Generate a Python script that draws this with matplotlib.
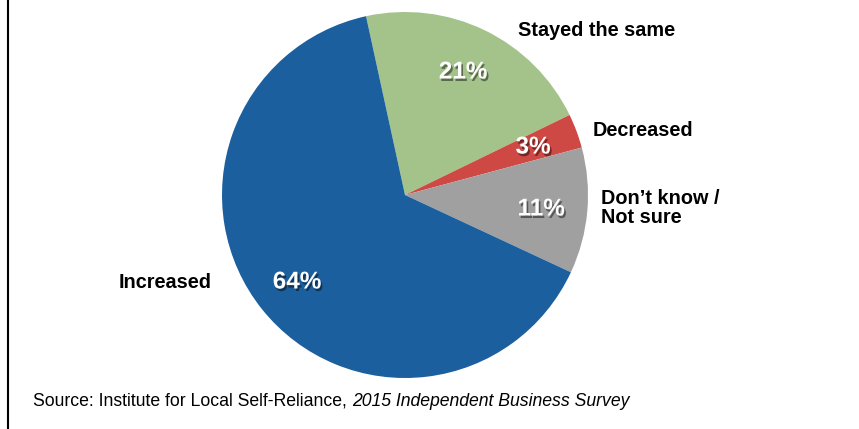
import matplotlib.pyplot as plt
import matplotlib.patheffects as pe
from matplotlib.lines import Line2D

plt.rcParams["font.family"] = ["Liberation Sans", "DejaVu Sans"]

# survey answers, in clockwise order from the top
categories = ["Stayed the same", "Decreased", "Don\u2019t know /\nNot sure", "Increased"]
shares = [21, 3, 11, 64]
colors = ["#a3c38a", "#cf4944", "#a0a0a0", "#1b5f9e"]

W, H = 859, 429
fig = plt.figure(figsize=(W / 100, H / 100), dpi=100)
ax = fig.add_axes([0, 0, 1, 1])
ax.set_xlim(0, W)
ax.set_ylim(0, H)
ax.set_aspect("equal")
ax.axis("off")

cx, cy, r = 405, H - 195, 183
wedges, _ = ax.pie(shares, colors=colors, startangle=102.3, counterclock=False,
                   center=(cx, cy), radius=r, normalize=True,
                   wedgeprops=dict(linewidth=0))
ax.set_xlim(0, W)
ax.set_ylim(0, H)

shadow = [pe.withSimplePatchShadow(offset=(1.2, -1.8), shadow_rgbFace="black", alpha=0.45)]

# percentage labels inside the slices
pct_pos = [(463, 72), (533, 147), (541, 209), (297, 282)]
for val, (x, y) in zip(shares, pct_pos):
    ax.text(x, H - y, f"{val}%", ha="center", va="center", color="white",
            fontsize=17.5, fontweight="bold", path_effects=shadow)

# category labels around the pie
cat_pos = [(518, 30, "left"), (593, 130, "left"), (601, 208, "left"), (212, 282, "right")]
for name, (x, y, ha) in zip(categories, cat_pos):
    ax.text(x, H - y, name, ha=ha, va="center", fontsize=14.3, fontweight="bold",
            linespacing=1.05)

ax.text(33, H - 401, "Source: Institute for Local Self-Reliance, ", fontsize=12.7,
        va="center", ha="left")
src = ax.texts[-1]
fig.canvas.draw()
bb = src.get_window_extent()
ax.text(bb.x1, H - 401, "2015 Independent Business Survey", fontsize=12.7,
        style="italic", va="center", ha="left")

fig.add_artist(Line2D([7.5 / W, 7.5 / W], [0, 1], color="black", linewidth=1.5))

fig.savefig("out.png", dpi=100)
